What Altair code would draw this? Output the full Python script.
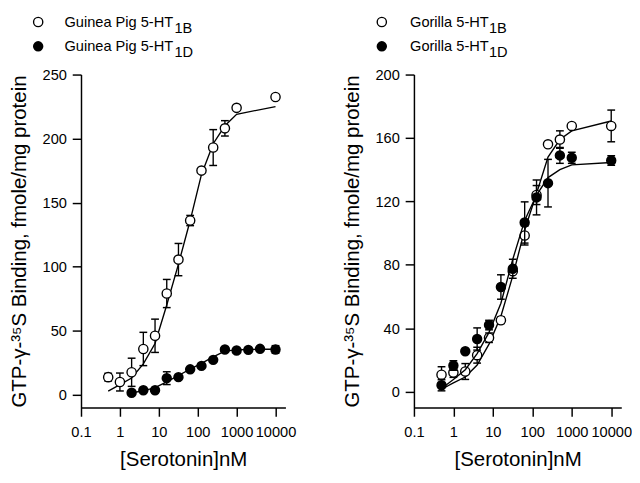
import altair as alt
import pandas as pd

FONT = "Liberation Sans"

# ---------------- Guinea pig (left panel) ----------------
gp_x_1b = [0.5, 1, 2, 4, 8, 16, 32, 64, 125, 250, 500, 1000, 10000]
gp_1b = [13.7, 9.9, 17.5, 35.7, 46, 79, 105.5, 136, 175, 193, 208, 224, 232.5]
gp_1b_err = [3, 7, 11, 13, 13, 11, 12.6, 4, 0, 14, 6, 0, 0]
gp_1b_fit = [2.8, 7.9, 13, 24, 40, 70, 102, 136, 172, 196, 210, 219, 225]

gp_x_1d = [2, 4, 8, 16, 32, 64, 125, 250, 500, 1000, 2000, 4000, 10000]
gp_1d = [1.5, 3.5, 3.5, 12.9, 13.7, 19.8, 22.5, 27.2, 35.3, 34.5, 35, 35.8, 35.3]
gp_1d_err = [0, 0, 0, 5, 0, 0, 0, 0, 0, 0, 0, 0, 3]
gp_1d_fit = [1.5, 3, 5.5, 10, 15, 20, 24.5, 29.5, 34, 35, 35.3, 35.5, 35.5]

# ---------------- Gorilla (right panel) ----------------
go_x = [0.5, 1, 2, 4, 8, 16, 32, 64, 128, 250, 500, 1000, 10000]
go_1b = [10.7, 12, 12.7, 23, 34, 45, 76, 98.5, 124, 156, 159, 167.6, 167.6]
go_1b_err = [5, 3, 5, 5, 3, 2, 0, 6, 6, 0, 5.5, 0, 10]
go_1b_fit = [1.5, 5.5, 9.2, 16.8, 30, 47.6, 73, 102, 125, 148, 159, 164.5, 170.7]

go_1d = [4, 16.5, 25.5, 33.2, 42, 66, 77.5, 106.7, 122.5, 131.5, 149, 147.5, 145.8]
go_1d_err = [3.5, 3, 0, 7, 3, 7.7, 6, 13, 11, 15, 5, 3.5, 3]
go_1d_fit = [2, 7.6, 13.8, 24, 37.4, 55.8, 83.5, 108, 124, 135, 140, 143, 144.5]

x_ticks = [0.1, 1, 10, 100, 1000, 10000]
gp_y_ticks = [0, 50, 100, 150, 200, 250]
go_y_ticks = [0, 40, 80, 120, 160, 200]

Y_TITLE = "GTP-\u03b3-\u00b3\u2075S Binding, fmole/mg protein"


def frame(xs, ys, errs, fits):
    return pd.DataFrame({
        "x": xs, "y": ys, "err": errs, "fit": fits,
        "lo": [a - b for a, b in zip(ys, errs)],
        "hi": [a + b for a, b in zip(ys, errs)],
    })


def series_layers(df, filled, X, Y):
    base = alt.Chart(df)
    line = base.mark_line(color="black", strokeWidth=1.4).encode(x=X("x"), y=Y("fit"))
    eb = df[df["err"] > 0]
    eb_base = alt.Chart(eb)
    rule = eb_base.mark_rule(color="black", strokeWidth=1.4).encode(
        x=X("x"), y=Y("lo"), y2="hi")
    cap_lo = eb_base.mark_tick(color="black", orient="horizontal", size=8,
                               thickness=1.5, opacity=1).encode(x=X("x"), y=Y("lo"))
    cap_hi = eb_base.mark_tick(color="black", orient="horizontal", size=8,
                               thickness=1.5, opacity=1).encode(x=X("x"), y=Y("hi"))
    if filled:
        pts = base.mark_circle(color="black", size=115, opacity=1).encode(
            x=X("x"), y=Y("y"))
    else:
        pts = base.mark_circle(fill="white", stroke="black", strokeWidth=1.4,
                               size=90, opacity=1).encode(x=X("x"), y=Y("y"))
    return [line, rule, cap_lo, cap_hi, pts]


def legend_layers(name, circ_x, text_x, sub_x, rows_y):
    one = pd.DataFrame({"a": [0]})
    layers = []
    for i, (sub, filled) in enumerate([("1B", False), ("1D", True)]):
        yy = rows_y[i]
        c = alt.Chart(one)
        if filled:
            m = c.mark_circle(color="black", size=115, opacity=1)
        else:
            m = c.mark_circle(fill="white", stroke="black", strokeWidth=1.4,
                              size=90, opacity=1)
        layers.append(m.encode(x=alt.value(circ_x), y=alt.value(yy)))
        layers.append(c.mark_text(align="left", baseline="middle", fontSize=15,
                                  font=FONT, color="black").encode(
            x=alt.value(text_x), y=alt.value(yy), text=alt.value(name + " 5-HT")))
        layers.append(c.mark_text(align="left", baseline="middle", fontSize=15,
                                  font=FONT, color="black").encode(
            x=alt.value(sub_x), y=alt.value(yy + 6), text=alt.value(sub)))
    return layers


def panel(d1b, d1d, ydom, yticks, name, circ_x, text_x, sub_x, width):
    xs = alt.Scale(type="log", domain=[0.1, 18000], nice=False)
    ys = alt.Scale(domain=ydom, nice=False, zero=False)
    xaxis = alt.Axis(values=x_ticks, format="~g", title="[Serotonin]nM",
                     labelFlush=False, labelOverlap=False, grid=False,
                     tickSize=9, labelPadding=9, titlePadding=10)
    yaxis = alt.Axis(values=yticks, title=Y_TITLE, grid=False, tickSize=9,
                     labelPadding=6, titlePadding=13, labelOverlap=False)

    def X(f):
        return alt.X(f + ":Q", scale=xs, axis=xaxis)

    def Y(f):
        return alt.Y(f + ":Q", scale=ys, axis=yaxis)

    layers = series_layers(d1b, False, X, Y) + series_layers(d1d, True, X, Y)
    layers += legend_layers(name, circ_x, text_x, sub_x, [-54, -29])
    return alt.layer(*layers).properties(width=width, height=342)


left = panel(frame(gp_x_1b, gp_1b, gp_1b_err, gp_1b_fit),
             frame(gp_x_1d, gp_1d, gp_1d_err, gp_1d_fit),
             [-10, 250], gp_y_ticks, "Guinea Pig", -44, -17, 96, 210)
right = panel(frame(go_x, go_1b, go_1b_err, go_1b_fit),
              frame(go_x, go_1d, go_1d_err, go_1d_fit),
              [-10, 200], go_y_ticks, "Gorilla", -33, -4, 77, 213)

chart = alt.hconcat(left, right, spacing=46).properties(
    padding={"left": 0, "top": 0, "right": 0, "bottom": 0}
).configure_view(stroke=None).configure_axis(
    domainColor="black", tickColor="black", labelColor="black", titleColor="black",
    domainWidth=1.5, tickWidth=1.5, labelFont=FONT, titleFont=FONT,
    labelFontSize=15, titleFontSize=21, titleFontWeight="normal"
)

chart.save("out.html", embed_options={"renderer": "svg", "actions": False})
